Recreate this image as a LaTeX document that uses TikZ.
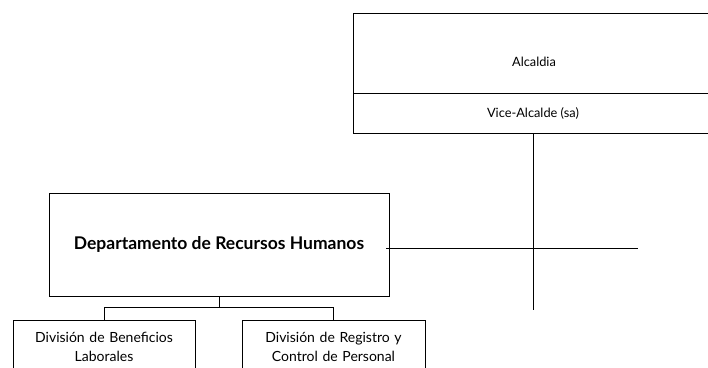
\documentclass[tikz,border=0pt]{standalone}
\usepackage{fontspec}
\setmainfont{Lato}
\tikzset{
  x=1pt, y=1pt,
  box/.style={draw=black, line width=0.9pt, rectangle, inner sep=0pt},
  conn/.style={draw=black, line width=0.9pt},
  small/.style={font=\fontsize{12.8}{15}\selectfont},
  mid/.style={font=\fontsize{14}{19}\selectfont, align=center},
  big/.style={font=\bfseries\fontsize{17.5}{20}\selectfont},
}
\begin{document}
\begin{tikzpicture}
\useasboundingbox (0,0) rectangle (708,-367);
\clip (0,0) rectangle (708,-367);
\fill[white] (0,0) rectangle (708,-367);
% top boxes
\node[box, minimum width=360, minimum height=80] (alc) at (533,-53) {};
\node[small] (alct) at (534,-62) {Alcaldia};
\node[box, small, minimum width=360, minimum height=40] (vice) at (533,-113) {Vice-Alcalde (sa)};
% department
\node[box, big, minimum width=340, minimum height=103] (dep) at (219,-244.5) {Departamento de Recursos Humanos};
% children
\node[box, mid, minimum width=182, minimum height=54, text width=180] (ben) at (104,-347) {División de Beneficios\\Laborales};
\node[box, mid, minimum width=183, minimum height=54, text width=181] (reg) at (333.5,-347) {División de Registro y\\Control de Personal};
% cross lines
\coordinate (vbot) at (533,-310);
\coordinate (hl) at (386,-248);
\coordinate (hr) at (638,-248);
\draw[conn] (vice.south) -- (vbot);
\draw[conn] (hl) -- (hr);
% tree connectors
\coordinate (bus) at (219,-307);
\draw[conn] (dep.south) -- (bus);
\draw[conn] (bus) -| (ben.north);
\draw[conn] (bus) -| (reg.north);
\end{tikzpicture}
\end{document}
